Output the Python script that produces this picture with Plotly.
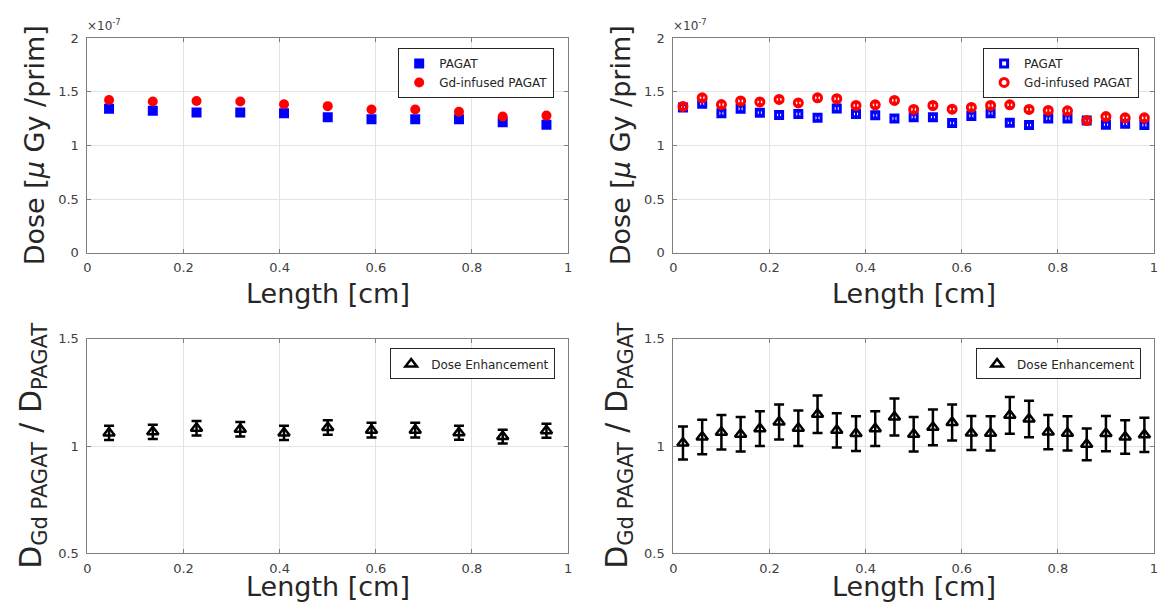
import plotly.graph_objects as go

W, H = 1159, 615

# Bin centres along the phantom [cm]
x_coarse = [0.045, 0.136, 0.227, 0.318, 0.409, 0.500, 0.591, 0.682, 0.773, 0.864, 0.955]
x_fine = [0.02, 0.06, 0.10, 0.14, 0.18, 0.22, 0.26, 0.30, 0.34, 0.38, 0.42, 0.46, 0.50,
          0.54, 0.58, 0.62, 0.66, 0.70, 0.74, 0.78, 0.82, 0.86, 0.90, 0.94, 0.98]

# Dose per primary, in units of 1e-7 uGy/prim (11 bins)
dose_pagat_coarse = [1.342, 1.324, 1.309, 1.309, 1.300, 1.264, 1.245, 1.245, 1.245, 1.218, 1.194]
dose_gd_coarse = [1.424, 1.410, 1.415, 1.410, 1.385, 1.367, 1.336, 1.336, 1.315, 1.270, 1.279]
err_pagat_coarse = [0.008, 0.008, 0.008, 0.008, 0.008, 0.008, 0.008, 0.008, 0.008, 0.008, 0.008]
err_gd_coarse = [0.008, 0.008, 0.008, 0.008, 0.008, 0.008, 0.008, 0.008, 0.008, 0.008, 0.008]

# Dose per primary, in units of 1e-7 uGy/prim (25 bins)
dose_pagat_fine = [1.355, 1.390, 1.300, 1.342, 1.306, 1.285, 1.294, 1.258, 1.345, 1.294,
                   1.282, 1.252, 1.264, 1.264, 1.209, 1.276, 1.300, 1.212, 1.191, 1.252,
                   1.252, 1.233, 1.194, 1.203, 1.191]
dose_gd_fine = [1.364, 1.445, 1.382, 1.415, 1.406, 1.430, 1.397, 1.445, 1.436, 1.373,
                1.379, 1.420, 1.336, 1.373, 1.339, 1.355, 1.373, 1.379, 1.336, 1.327,
                1.324, 1.233, 1.270, 1.258, 1.258]
err_pagat_fine = [0.02, 0.02, 0.02, 0.02, 0.02, 0.02, 0.02, 0.02, 0.02, 0.02, 0.02, 0.02, 0.02,
                  0.02, 0.02, 0.02, 0.02, 0.02, 0.02, 0.02, 0.02, 0.02, 0.02, 0.02, 0.02]
err_gd_fine = [0.02, 0.02, 0.02, 0.02, 0.02, 0.02, 0.02, 0.02, 0.02, 0.02, 0.02, 0.02, 0.02,
               0.02, 0.02, 0.02, 0.02, 0.02, 0.02, 0.02, 0.02, 0.02, 0.02, 0.02, 0.02]

# Dose enhancement ratio D_Gd / D_PAGAT
enh_coarse = [1.061, 1.066, 1.083, 1.078, 1.061, 1.086, 1.074, 1.074, 1.062, 1.044, 1.071]
enh_coarse_err = [0.033, 0.033, 0.034, 0.034, 0.033, 0.034, 0.034, 0.034, 0.033, 0.032, 0.033]
enh_fine = [1.014, 1.042, 1.064, 1.055, 1.081, 1.112, 1.083, 1.148, 1.073, 1.058, 1.081, 1.135,
            1.055, 1.087, 1.110, 1.061, 1.059, 1.143, 1.126, 1.065, 1.059, 1.008, 1.058,
            1.042, 1.052]
enh_fine_err = [0.077, 0.080, 0.080, 0.080, 0.081, 0.082, 0.083, 0.087, 0.080, 0.081, 0.081,
                0.086, 0.080, 0.083, 0.084, 0.079, 0.080, 0.086, 0.085, 0.080, 0.080, 0.074,
                0.082, 0.078, 0.080]

x_ticks = [0, 0.2, 0.4, 0.6, 0.8, 1]
x_ticktext = ["0", "0.2", "0.4", "0.6", "0.8", "1"]
dose_ticks = [0, 0.5, 1, 1.5, 2]
dose_ticktext = ["0", "0.5", "1", "1.5", "2"]
enh_ticks = [0.5, 1, 1.5]
enh_ticktext = ["0.5", "1", "1.5"]

FONT = "DejaVu Sans"
BLUE = "#0000ff"
RED = "#ff0000"
TITLE_C = "#262626"
TICK_C = "#404040"


def px(x):
    return x / W


def py(y):
    return 1 - y / H


fig = go.Figure()

# ---- top-left: 11 bins, filled markers
fig.add_trace(go.Scatter(
    x=x_coarse, y=dose_pagat_coarse, mode="markers", name="PAGAT",
    error_y=dict(type="data", array=err_pagat_coarse, color=BLUE, thickness=2, width=2),
    marker=dict(symbol="square", size=10, color=BLUE),
    xaxis="x", yaxis="y", legend="legend"))
fig.add_trace(go.Scatter(
    x=x_coarse, y=dose_gd_coarse, mode="markers", name="Gd-infused PAGAT",
    error_y=dict(type="data", array=err_gd_coarse, color=RED, thickness=2, width=2),
    marker=dict(symbol="circle", size=10, color=RED),
    xaxis="x", yaxis="y", legend="legend"))

# ---- top-right: 25 bins, thick open markers
fig.add_trace(go.Scatter(
    x=x_fine, y=dose_pagat_fine, mode="markers", name="PAGAT",
    error_y=dict(type="data", array=err_pagat_fine, color=BLUE, thickness=2, width=2),
    marker=dict(symbol="square-open", size=7, color=BLUE, line=dict(width=3, color=BLUE)),
    xaxis="x2", yaxis="y2", legend="legend2"))
fig.add_trace(go.Scatter(
    x=x_fine, y=dose_gd_fine, mode="markers", name="Gd-infused PAGAT",
    error_y=dict(type="data", array=err_gd_fine, color=RED, thickness=2, width=2),
    marker=dict(symbol="circle-open", size=8, color=RED, line=dict(width=3, color=RED)),
    xaxis="x2", yaxis="y2", legend="legend2"))

# ---- bottom: dose enhancement ratios
fig.add_trace(go.Scatter(
    x=x_coarse, y=enh_coarse, mode="markers", name="Dose Enhancement",
    error_y=dict(type="data", array=enh_coarse_err, color="black", thickness=2.5, width=5),
    marker=dict(symbol="triangle-up-open", size=10, color="black", line=dict(width=2.5, color="black")),
    xaxis="x3", yaxis="y3", legend="legend3"))
fig.add_trace(go.Scatter(
    x=x_fine, y=enh_fine, mode="markers", name="Dose Enhancement",
    error_y=dict(type="data", array=enh_fine_err, color="black", thickness=2.5, width=5),
    marker=dict(symbol="triangle-up-open", size=10, color="black", line=dict(width=2.5, color="black")),
    xaxis="x4", yaxis="y4", legend="legend4"))


def xaxis(domain, anchor):
    return dict(domain=domain, anchor=anchor, range=[0, 1], tickvals=x_ticks, ticktext=x_ticktext,
                showgrid=True, gridcolor="#e3e3e3", gridwidth=1, zeroline=False,
                showline=True, linecolor="#7f7f7f", linewidth=1, mirror="ticks",
                ticks="inside", ticklen=4, tickcolor="#7f7f7f",
                tickfont=dict(family=FONT, size=13, color=TICK_C), ticklabelstandoff=3)


def yaxis(domain, anchor, rng, vals, text):
    return dict(domain=domain, anchor=anchor, range=rng, tickvals=vals, ticktext=text,
                showgrid=True, gridcolor="#e3e3e3", gridwidth=1, zeroline=False,
                showline=True, linecolor="#7f7f7f", linewidth=1, mirror="ticks",
                ticks="inside", ticklen=4, tickcolor="#7f7f7f",
                tickfont=dict(family=FONT, size=13, color=TICK_C), ticklabelstandoff=5)


xl = [px(84), px(568)]
xr = [px(674), px(1158)]
yt = [py(252), py(32)]
yb = [py(560), py(340)]

legend_common = dict(bgcolor="white", bordercolor="#262626", borderwidth=1,
                     font=dict(family=FONT, size=12, color=TITLE_C),
                     xanchor="right", yanchor="top", itemwidth=30, tracegroupgap=0)

fig.update_layout(
    width=W, height=H, margin=dict(l=0, r=0, t=0, b=0),
    paper_bgcolor="white", plot_bgcolor="white",
    font=dict(family=FONT, color=TITLE_C),
    xaxis=xaxis(xl, "y"), yaxis=yaxis(yt, "x", [0, 2], dose_ticks, dose_ticktext),
    xaxis2=xaxis(xr, "y2"), yaxis2=yaxis(yt, "x2", [0, 2], dose_ticks, dose_ticktext),
    xaxis3=xaxis(xl, "y3"), yaxis3=yaxis(yb, "x3", [0.5, 1.5], enh_ticks, enh_ticktext),
    xaxis4=xaxis(xr, "y4"), yaxis4=yaxis(yb, "x4", [0.5, 1.5], enh_ticks, enh_ticktext),
    legend=dict(x=px(554), y=py(42), **legend_common),
    legend2=dict(x=px(1143), y=py(42), **legend_common),
    legend3=dict(x=px(555), y=py(350), **legend_common),
    legend4=dict(x=px(1145), y=py(350), **legend_common),
)

annotations = []
for x0 in (0, 590):
    # exponent marker for the dose axes
    annotations.append(dict(x=px(82 + x0), y=py(29), xref="paper", yref="paper",
                            xanchor="left", yanchor="bottom", showarrow=False,
                            text="×10<sup>-7</sup>",
                            font=dict(family=FONT, size=12, color=TICK_C)))
    # x titles
    for ytop in (276, 576):
        annotations.append(dict(x=px(326 + x0), y=py(ytop), xref="paper", yref="paper",
                                xanchor="center", yanchor="top", showarrow=False,
                                text="Length [cm]",
                                font=dict(family=FONT, size=27, color=TITLE_C)))
    # y titles
    annotations.append(dict(x=px(31 + x0), y=py(142), xref="paper", yref="paper",
                            xanchor="center", yanchor="middle", showarrow=False, textangle=-90,
                            text="Dose [<i>μ</i> Gy /prim]",
                            font=dict(family=FONT, size=27, color=TITLE_C)))
    annotations.append(dict(x=px(28 + x0), y=py(450), xref="paper", yref="paper",
                            xanchor="center", yanchor="middle", showarrow=False, textangle=-90,
                            text="D<sub>Gd PAGAT</sub> / D<sub>PAGAT</sub>",
                            font=dict(family=FONT, size=30, color=TITLE_C)))

fig.update_layout(annotations=annotations)

fig.write_html("out.html")
